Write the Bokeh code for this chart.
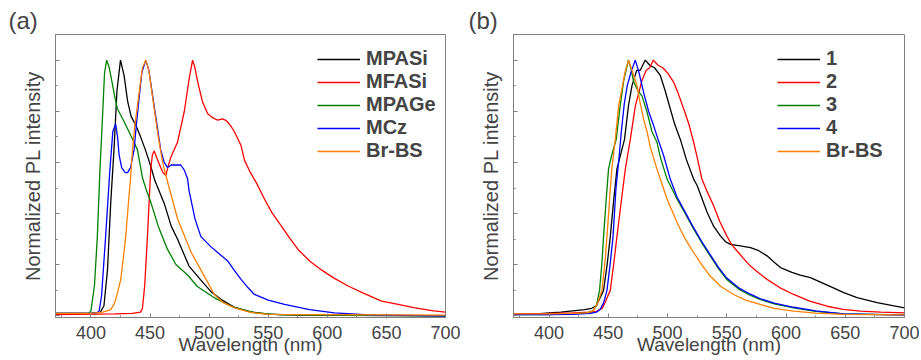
from bokeh.plotting import figure
from bokeh.layouts import row
from bokeh.models import Legend, LegendItem, SingleIntervalTicker, CustomJSTickFormatter
from bokeh.embed import file_html
from bokeh.resources import INLINE

# ---------------- Panel (a) data ----------------
mpasi_x = [370, 400, 408, 411, 414, 416.7, 419.5, 422, 425, 428, 431, 434, 438, 442, 446, 450.6, 454, 462, 468, 473.3, 483, 493, 501.6, 510, 521, 535, 550, 575, 700]
mpasi_y = [0.01, 0.01, 0.015, 0.04, 0.18, 0.44, 0.65, 0.88, 1.0, 0.94, 0.84, 0.78, 0.745, 0.70, 0.65, 0.585, 0.53, 0.44, 0.35, 0.30, 0.195, 0.14, 0.095, 0.065, 0.035, 0.016, 0.007, 0.003, 0.0]

mfasi_x = [370, 420, 435, 442, 443.6, 445.5, 447.8, 450.6, 452, 453.5, 455.5, 459, 461, 463.4, 465, 467.6, 473.3, 479, 483.2, 486, 488, 490.3, 494.5, 498.8, 503, 507.3, 511, 514.3, 518, 521.4, 527, 530, 535, 540, 546.8, 553, 561, 568, 575.2, 585, 595, 605, 617.6, 630, 645.9, 660, 674.2, 690, 700]
mfasi_y = [0.005, 0.008, 0.01, 0.015, 0.03, 0.12, 0.31, 0.575, 0.63, 0.645, 0.62, 0.58, 0.56, 0.55, 0.58, 0.62, 0.68, 0.80, 0.93, 1.0, 0.97, 0.915, 0.835, 0.79, 0.775, 0.765, 0.77, 0.764, 0.745, 0.72, 0.666, 0.607, 0.56, 0.52, 0.457, 0.405, 0.352, 0.305, 0.26, 0.215, 0.18, 0.15, 0.117, 0.09, 0.058, 0.045, 0.032, 0.02, 0.015]

mpage_x = [370, 398, 400, 403, 405.4, 407.6, 409.6, 411.5, 413.3, 415.5, 418, 420, 422.4, 428, 433.7, 439.3, 443.6, 447, 450.6, 457, 464.8, 472, 481.8, 490, 504.4, 520, 538, 560, 700]
mpage_y = [0.01, 0.01, 0.02, 0.12, 0.31, 0.57, 0.76, 0.95, 1.0, 0.97, 0.91, 0.86, 0.81, 0.76, 0.705, 0.65, 0.54, 0.49, 0.445, 0.35, 0.26, 0.2, 0.16, 0.115, 0.071, 0.035, 0.013, 0.004, 0.0]

mcz_x = [370, 400, 405, 407, 409, 412.4, 416, 418.5, 420.9, 422.5, 423.8, 426, 429, 431, 433.5, 436.5, 438.5, 440.7, 443, 446.4, 449, 453.5, 459, 462, 464.8, 468, 472, 476, 479, 481.8, 483, 488, 493, 501.6, 508, 515.7, 521, 527, 533, 538.3, 550, 563.8, 585, 606, 635, 700]
mcz_y = [0.01, 0.01, 0.012, 0.02, 0.08, 0.31, 0.57, 0.72, 0.75, 0.70, 0.63, 0.58, 0.56, 0.56, 0.58, 0.65, 0.75, 0.85, 0.95, 1.0, 0.96, 0.82, 0.65, 0.60, 0.58, 0.59, 0.59, 0.59, 0.57, 0.535, 0.49, 0.38, 0.31, 0.27, 0.245, 0.215, 0.18, 0.143, 0.11, 0.084, 0.062, 0.045, 0.025, 0.012, 0.004, 0.0]

brbs_a_x = [370, 400, 410, 416.7, 420, 422.5, 425.2, 427.5, 429.4, 431.5, 433.7, 435, 437, 439.3, 441.5, 443.6, 446.4, 449, 452, 456.3, 460.6, 466.2, 473.3, 484.6, 493, 504.4, 512, 521.4, 535, 549.7, 700]
brbs_a_y = [0.01, 0.01, 0.015, 0.025, 0.05, 0.09, 0.143, 0.23, 0.31, 0.43, 0.55, 0.64, 0.74, 0.82, 0.90, 0.97, 1.0, 0.96, 0.86, 0.72, 0.60, 0.50, 0.38, 0.25, 0.18, 0.084, 0.052, 0.032, 0.014, 0.006, 0.003]

# ---------------- Panel (b) data ----------------
c1_x = [370, 390, 400, 410, 420, 430, 436, 440, 443, 446, 449, 451.7, 454.5, 457.3, 463.7, 467, 470, 474, 477, 481.2, 485, 489, 493.9, 498, 502.3, 506, 510.8, 516, 522, 525, 533.4, 539, 544.6, 549, 553, 560, 570, 577, 584, 590, 595.3, 605, 612, 620.6, 630, 640, 648.7, 660, 676.9, 690, 700]
c1_y = [0.005, 0.008, 0.012, 0.015, 0.02, 0.025, 0.03, 0.04, 0.07, 0.1, 0.2, 0.31, 0.45, 0.575, 0.69, 0.82, 0.9, 0.96, 0.96, 1.0, 0.98, 0.97, 0.94, 0.88, 0.81, 0.75, 0.69, 0.61, 0.535, 0.51, 0.405, 0.35, 0.313, 0.29, 0.28, 0.275, 0.267, 0.255, 0.235, 0.21, 0.189, 0.17, 0.16, 0.15, 0.13, 0.11, 0.091, 0.072, 0.052, 0.04, 0.032]

c2_x = [370, 400, 420, 435, 440, 445, 448, 451.7, 454.5, 457.3, 461, 464.4, 468.6, 472.8, 478.4, 482, 485, 488, 492, 496, 500, 505, 509, 513.6, 518, 522, 525.5, 529, 534, 539, 544, 550, 554, 558.7, 564, 570, 577, 584, 595, 606.5, 620, 634.7, 648, 662.8, 680, 700]
c2_y = [0.008, 0.01, 0.012, 0.015, 0.018, 0.03, 0.06, 0.1, 0.2, 0.31, 0.45, 0.575, 0.69, 0.82, 0.92, 0.96, 0.97, 1.0, 0.98, 0.97, 0.95, 0.915, 0.87, 0.81, 0.75, 0.68, 0.61, 0.535, 0.48, 0.43, 0.37, 0.313, 0.28, 0.254, 0.225, 0.195, 0.168, 0.143, 0.11, 0.084, 0.058, 0.038, 0.026, 0.019, 0.015, 0.012]

c3_x = [370, 400, 420, 432, 437, 440, 442.6, 444.5, 446, 448, 450.2, 453, 456.7, 460, 463, 467, 469, 471.4, 475, 478.4, 482.7, 486.9, 491, 494, 499.6, 508, 515, 522, 529, 536, 543, 550, 560, 570, 578, 590, 606.5, 625, 648.7, 700]
c3_y = [0.005, 0.005, 0.008, 0.012, 0.02, 0.04, 0.1, 0.2, 0.31, 0.44, 0.575, 0.63, 0.69, 0.82, 0.92, 1.0, 0.97, 0.915, 0.88, 0.86, 0.797, 0.72, 0.68, 0.62, 0.535, 0.457, 0.4, 0.34, 0.285, 0.235, 0.185, 0.143, 0.105, 0.08, 0.065, 0.047, 0.032, 0.018, 0.008, 0.004]

c4_x = [370, 400, 420, 435, 440, 443, 446, 448.9, 451.5, 454, 456.5, 458.7, 461, 463.5, 466, 469, 472.8, 476, 480, 484, 488.2, 492, 496.7, 502.3, 508, 515, 522, 529, 536, 543, 550, 560, 570, 578, 590, 606.5, 625, 648.7, 700]
c4_y = [0.005, 0.005, 0.006, 0.01, 0.015, 0.025, 0.05, 0.1, 0.2, 0.31, 0.5, 0.6, 0.72, 0.83, 0.9, 0.95, 1.0, 0.95, 0.87, 0.8, 0.745, 0.69, 0.627, 0.535, 0.465, 0.405, 0.345, 0.29, 0.24, 0.19, 0.148, 0.11, 0.085, 0.068, 0.05, 0.034, 0.02, 0.008, 0.003]

brbs_b_x = [370, 400, 420, 432, 437, 441, 444.6, 447, 448.9, 451, 453, 455.9, 458.7, 462, 464, 467, 470, 474.2, 477, 479.8, 482.7, 485.5, 491, 493.9, 499.6, 508, 515, 522, 529, 536, 545, 555.8, 566, 578, 590, 606.5, 625, 648.7, 700]
brbs_b_y = [0.008, 0.008, 0.01, 0.012, 0.02, 0.05, 0.1, 0.2, 0.31, 0.45, 0.575, 0.69, 0.82, 0.9, 0.95, 1.0, 0.96, 0.9, 0.83, 0.77, 0.72, 0.66, 0.575, 0.535, 0.457, 0.365, 0.3, 0.248, 0.2, 0.156, 0.115, 0.084, 0.062, 0.045, 0.03, 0.019, 0.011, 0.006, 0.004]

labels_a = ["MPASi", "MFASi", "MPAGe", "MCz", "Br-BS"]
labels_b = ["1", "2", "3", "4", "Br-BS"]
colors = ["#000000", "#FF0000", "#008000", "#0000FF", "#FF8000"]

FONT = "Liberation Sans"
AXIS_GRAY = "#808080"


def make_panel(series, labels, tag, width, left, right, legend_x):
    p = figure(width=width, height=360, x_range=(370, 700), y_range=(-0.006, 1.1),
               output_backend="svg", toolbar_location=None,
               min_border_left=left, min_border_right=right,
               min_border_top=34, min_border_bottom=43)
    p.xgrid.visible = False
    p.ygrid.visible = False
    p.outline_line_color = AXIS_GRAY
    p.outline_line_width = 1
    p.background_fill_color = "white"
    p.border_fill_color = "white"

    p.title.text = tag
    p.title.align = "left"
    p.title.offset = -(left - 8)
    p.title.text_font = FONT
    p.title.text_font_style = "normal"
    p.title.text_font_size = "24px"
    p.title.standoff = 1
    p.title.vertical_align = "bottom"

    xa = p.xaxis[0]
    xa.ticker = SingleIntervalTicker(interval=50, num_minor_ticks=2)
    xa.axis_label = "Wavelength (nm)"
    xa.axis_label_text_font = FONT
    xa.axis_label_text_font_style = "normal"
    xa.axis_label_text_font_size = "19px"
    xa.axis_label_standoff = -8
    xa.major_label_text_font = FONT
    xa.major_label_text_font_size = "18px"
    xa.major_label_standoff = 8
    xa.axis_line_color = AXIS_GRAY
    xa.major_tick_line_color = AXIS_GRAY
    xa.minor_tick_line_color = AXIS_GRAY
    xa.major_tick_in = 4
    xa.major_tick_out = 0
    xa.minor_tick_in = 2
    xa.minor_tick_out = 0

    ya = p.yaxis[0]
    ya.ticker = SingleIntervalTicker(interval=0.2, num_minor_ticks=2)
    ya.formatter = CustomJSTickFormatter(code="return ''")
    ya.axis_label = "Normalized PL intensity"
    ya.axis_label_text_font = FONT
    ya.axis_label_text_font_style = "normal"
    ya.axis_label_text_font_size = "20px"
    ya.axis_label_standoff = 12
    ya.major_label_standoff = 0
    ya.axis_line_color = AXIS_GRAY
    ya.major_tick_line_color = AXIS_GRAY
    ya.minor_tick_line_color = AXIS_GRAY
    ya.major_tick_in = 4
    ya.major_tick_out = 0
    ya.minor_tick_in = 2
    ya.minor_tick_out = 0

    items = []
    for (xs, ys), lab, col in zip(series, labels, colors):
        r = p.line(xs, ys, line_color=col, line_width=1.3)
        items.append(LegendItem(label=lab, renderers=[r]))

    legend = Legend(items=items, location=(legend_x, 155),
                    label_text_font=FONT, label_text_font_style="bold",
                    label_text_font_size="20px", label_standoff=6,
                    glyph_width=43, glyph_height=20, label_height=20,
                    spacing=0, padding=0, margin=0,
                    border_line_alpha=0, background_fill_alpha=0)
    p.add_layout(legend)
    return p


pa = make_panel([(mpasi_x, mpasi_y), (mfasi_x, mfasi_y), (mpage_x, mpage_y),
                 (mcz_x, mcz_y), (brbs_a_x, brbs_a_y)],
                labels_a, "(a)", 460, 55, 15, 262)
pb = make_panel([(c1_x, c1_y), (c2_x, c2_y), (c3_x, c3_y),
                 (c4_x, c4_y), (brbs_b_x, brbs_b_y)],
                labels_b, "(b)", 461, 53, 17, 264)

layout = row(pa, pb)
open("out.html", "w").write(file_html(layout, INLINE))
